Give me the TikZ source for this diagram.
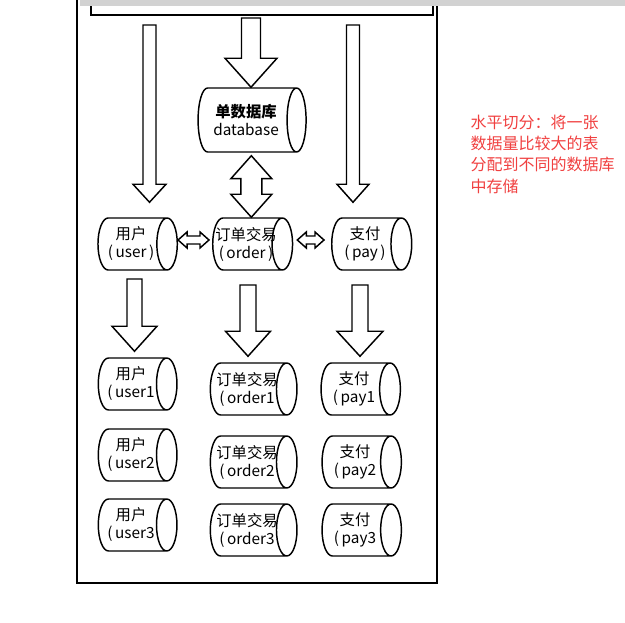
\documentclass[tikz,border=0pt]{standalone}
\usepackage{fontspec}
\newfontfamily\cjk{Noto Sans CJK SC}
\usepackage{tikz}
\usetikzlibrary{shapes.geometric,calc}

\definecolor{notered}{RGB}{240,64,64}
\newcommand{\px}{0.75pt}

% block arrows; sizes in px: shaft half width, head half width, head length
\newcommand{\fatdown}[5]{%
  \draw[fat] let \p1=(#1), \p2=(#2) in
    (\x1-#3*\px,\y1) -- (\x1+#3*\px,\y1) -- (\x1+#3*\px,\y2+#5*\px)
    -- (\x1+#4*\px,\y2+#5*\px) -- (\x1,\y2) -- (\x1-#4*\px,\y2+#5*\px)
    -- (\x1-#3*\px,\y2+#5*\px) -- cycle;}
\newcommand{\fatupdown}[5]{%
  \draw[fat] let \p1=(#1), \p2=(#2) in
    (\x1,\y1) -- (\x1+#4*\px,\y1-#5*\px) -- (\x1+#3*\px,\y1-#5*\px)
    -- (\x1+#3*\px,\y2+#5*\px) -- (\x1+#4*\px,\y2+#5*\px) -- (\x1,\y2)
    -- (\x1-#4*\px,\y2+#5*\px) -- (\x1-#3*\px,\y2+#5*\px)
    -- (\x1-#3*\px,\y1-#5*\px) -- (\x1-#4*\px,\y1-#5*\px) -- cycle;}
\newcommand{\fatleftright}[5]{%
  \draw[fat] let \p1=(#1), \p2=(#2) in
    (\x1,\y1) -- (\x1+#5*\px,\y1+#4*\px) -- (\x1+#5*\px,\y1+#3*\px)
    -- (\x2-#5*\px,\y1+#3*\px) -- (\x2-#5*\px,\y1+#4*\px) -- (\x2,\y1)
    -- (\x2-#5*\px,\y1-#4*\px) -- (\x2-#5*\px,\y1-#3*\px)
    -- (\x1+#5*\px,\y1-#3*\px) -- (\x1+#5*\px,\y1-#4*\px) -- cycle;}

\begin{document}
\begin{tikzpicture}[
    x=0.75pt, y=-0.75pt,
    % cylinder: minimum height is the length along the axis
    store/.style={cylinder, draw, line width=1.1pt, aspect=0.58,
                  minimum height=59.5pt, minimum width=39pt,
                  inner xsep=-4pt, inner ysep=0.5pt,
                  align=center, font=\cjk\fontsize{11.5}{13.5}\selectfont},
    fat/.style={draw, line width=1.1pt, fill=white, line join=miter},
    frame/.style={draw, line width=1.5pt, inner sep=0pt},
    note/.style={anchor=north west, align=left, text=notered,
                 font=\cjk\fontsize{12}{16}\selectfont},
  ]
  \useasboundingbox (0,0) rectangle (625,623);

  % outer frame and the source box cut off at the top
  \node[frame, minimum width=270pt, minimum height=444.75pt] (frame) at (257,286.5) {};
  \node[frame, minimum width=256.5pt, minimum height=18.75pt] (source) at (262,2.5) {};
  \fill[gray!35] (80,0) rectangle (625,6);

  % single database
  \node[store, minimum height=81pt, minimum width=48pt] (db) at (246,120)
      {\bfseries 单数据库\\database};

  % first split
  \node[store] (user) at (131,244) {用户\\(\,user\,)};
  \node[store] (order) at (246,244) {订单交易\\(\,order\,)};
  \node[store, minimum height=60pt] (pay) at (365,244) {支付\\(\,pay\,)};

  % second split
  \node[store, minimum height=59pt] (user1) at (131,384) {用户\\(\,user1};
  \node[store, minimum height=65pt] (order1) at (247,389) {订单交易\\(\,order1};
  \node[store] (pay1) at (354,389) {支付\\(\,pay1};
  \node[store, minimum height=59pt] (user2) at (131,455) {用户\\(\,user2};
  \node[store, minimum height=65pt] (order2) at (247,462) {订单交易\\(\,order2};
  \node[store] (pay2) at (355,462) {支付\\(\,pay2};
  \node[store, minimum height=59pt] (user3) at (131,525) {用户\\(\,user3};
  \node[store, minimum height=65pt] (order3) at (247,530) {订单交易\\(\,order3};
  \node[store] (pay3) at (355,530) {支付\\(\,pay3};

  \coordinate (feedL) at (149.5,25);
  \coordinate (feedM) at (251,18);
  \coordinate (feedR) at (353,25);
  \coordinate (splitU) at (134.5,279);
  \coordinate (splitO) at (248,285);
  \coordinate (splitP) at (360,285);

  % block arrows
  \fatdown{feedM}{db.north}{9.5}{26}{29}
  \fatdown{feedL}{[yshift=11.25pt]user.north}{6.5}{16.5}{18}
  \fatdown{feedR}{[yshift=11.25pt]pay.north}{6.5}{16}{18}
  \fatupdown{[xshift=4pt,yshift=-2.25pt]db.south}{order.north}{10.5}{20.5}{23}
  \fatleftright{[yshift=3pt]user.east}{[xshift=-2.25pt]order.west}{4}{8}{9}
  \fatleftright{[xshift=3pt,yshift=3pt]order.east}{[xshift=-5.25pt]pay.west}{4}{8}{9}
  \fatdown{splitU}{[yshift=4.5pt]user1.north}{7.5}{22.5}{25}
  \fatdown{splitO}{[yshift=4.5pt]order1.north}{8}{22.5}{25}
  \fatdown{splitP}{[yshift=4.5pt]pay1.north}{8}{23}{25}

  \node[note] (remark) at (466,110)
      {水平切分：将一张\\数据量比较大的表\\分配到不同的数据库\\中存储};
\end{tikzpicture}
\end{document}
